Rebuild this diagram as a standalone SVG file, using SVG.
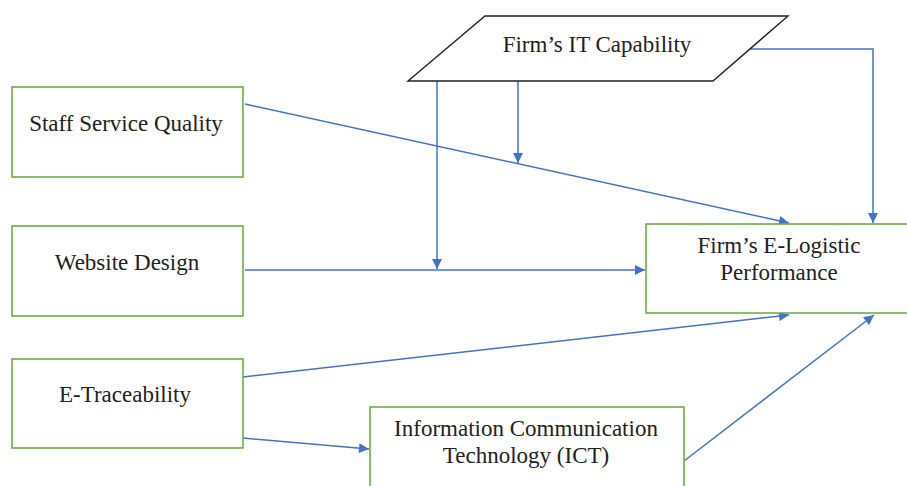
<svg xmlns="http://www.w3.org/2000/svg" width="907" height="486" viewBox="0 0 907 486">
  <style>
    .box { fill: #ffffff; stroke: #70AD47; stroke-width: 1.6; }
    .para { fill: #ffffff; stroke: #222222; stroke-width: 1.4; }
    .lbl { font-family: "Liberation Serif", "Times New Roman", serif; font-size: 23px; fill: #222222; text-anchor: middle; }
    .edge { fill: none; stroke: #4472C4; stroke-width: 1.5; }
  </style>
  <defs>
    <marker id="arrow" viewBox="0 0 10 10" refX="10" refY="5" markerWidth="11" markerHeight="10" markerUnits="userSpaceOnUse" orient="auto">
      <path d="M0,0 L10,5 L0,10 z" fill="#4472C4"/>
    </marker>
  </defs>
  <rect width="907" height="486" fill="#ffffff"/>

  <g id="connectors">
    <path class="edge" d="M245,104 L789,223" marker-end="url(#arrow)"/>
    <path class="edge" d="M518,81 L518,163" marker-end="url(#arrow)"/>
    <path class="edge" d="M437,81 L437,269" marker-end="url(#arrow)"/>
    <path class="edge" d="M750,49 L873,49 L873,223" marker-end="url(#arrow)"/>
    <path class="edge" d="M245,270 L645,270" marker-end="url(#arrow)"/>
    <path class="edge" d="M243,377 L789,315" marker-end="url(#arrow)"/>
    <path class="edge" d="M243,438 L369,449" marker-end="url(#arrow)"/>
    <path class="edge" d="M684,461 L874,315" marker-end="url(#arrow)"/>
  </g>

  <g id="it-capability">
    <polygon class="para" points="485,16 788,16 713,81 408,81"/>
    <text class="lbl" x="597" y="52">Firm’s IT Capability</text>
  </g>

  <g id="staff-service-quality">
    <rect class="box" x="12" y="87" width="231" height="90"/>
    <text class="lbl" x="126" y="131">Staff Service Quality</text>
  </g>

  <g id="website-design">
    <rect class="box" x="12" y="226" width="231" height="90"/>
    <text class="lbl" x="127" y="270">Website Design</text>
  </g>

  <g id="e-traceability">
    <rect class="box" x="12" y="359" width="231" height="89"/>
    <text class="lbl" x="125" y="402">E-Traceability</text>
  </g>

  <g id="ict">
    <rect class="box" x="370" y="407" width="314" height="90"/>
    <text class="lbl" x="526" y="436">Information Communication</text>
    <text class="lbl" x="526" y="463">Technology (ICT)</text>
  </g>

  <g id="e-logistic-performance">
    <rect class="box" x="646" y="224" width="270" height="89"/>
    <text class="lbl" x="779" y="253">Firm’s E-Logistic</text>
    <text class="lbl" x="779" y="280">Performance</text>
  </g>
</svg>
